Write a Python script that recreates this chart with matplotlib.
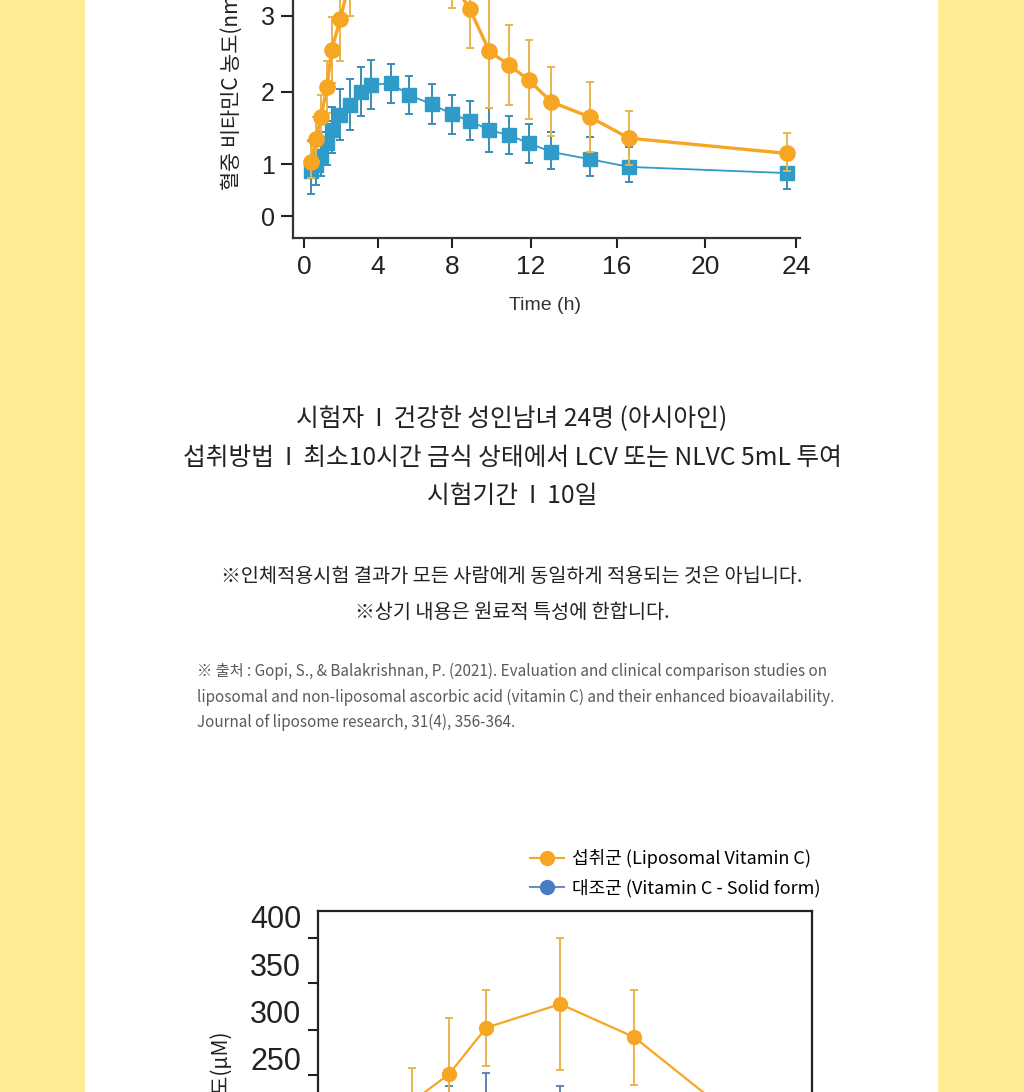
import matplotlib.pyplot as plt
import numpy as np
from matplotlib.patches import Rectangle
from matplotlib.lines import Line2D

plt.rcParams['font.family'] = ['Noto Sans CJK KR', 'DejaVu Sans']

# top chart: blood vitamin C, LCV vs NLVC
time_h = [0.38, 0.65, 0.92, 1.24, 1.49, 1.97, 2.5, 3.1, 3.6, 4.7, 5.7, 6.9,
          8.0, 8.9, 9.9, 10.9, 11.9, 12.95, 14.75, 16.55, 23.6]
lcv = [1.03, 1.35, 1.65, 2.06, 2.55, 2.96, 3.5, 3.9, 4.1, 4.3, 4.1, 3.8,
       3.45, 3.09, 2.53, 2.35, 2.15, 1.86, 1.65, 1.36, 1.15]
lcv_err = [0.3, 0.3, 0.3, 0.35, 0.43, 0.56, 0.5, 0.5, 0.5, 0.5, 0.5, 0.5,
           0.35, 0.52, 0.76, 0.53, 0.53, 0.47, 0.48, 0.37, 0.28]
nlvc = [0.87, 0.99, 1.11, 1.29, 1.47, 1.68, 1.82, 2.0, 2.09, 2.11, 1.95, 1.83,
        1.69, 1.60, 1.47, 1.40, 1.29, 1.17, 1.07, 0.95, 0.83]
nlvc_err = [0.45, 0.39, 0.34, 0.3, 0.32, 0.35, 0.35, 0.33, 0.33, 0.26, 0.26, 0.27,
            0.27, 0.27, 0.3, 0.26, 0.27, 0.27, 0.3, 0.29, 0.3]
x_ticks = [0, 4, 8, 12, 16, 20, 24]
y_ticks = [0, 1, 2, 3]

# bottom chart: liposomal vs solid vitamin C (uM)
time2 = [0, 0.5, 1, 1.5, 2, 3, 4, 6]
lipo = [70, 140, 205, 234, 283, 308, 273, 148]
lipo_err = [20, 30, 35, 59, 40, 70, 50, 40]
solid = [60, 110, 160, 185, 200, 185, 170, 120]
solid_err = [20, 25, 30, 37, 35, 37, 35, 30]
y2_ticks = [250, 300, 350, 400]
y2_marks = [378, 330, 281, 233]

ORANGE = '#F6A623'
ORANGE_E = '#EAB44E'
TEAL = '#2E9BC8'
TEAL_E = '#3A8DB6'
BLUE = '#4A7CC4'
BLUE_E = '#5A84B0'

W, H = 1024, 1092


def piecewise(vals, pos):
    # uneven axis spacing seen in the original graphic
    vals = np.asarray(vals, float)
    pos = np.asarray(pos, float)
    s0 = (pos[1] - pos[0]) / (vals[1] - vals[0])
    s1 = (pos[-1] - pos[-2]) / (vals[-1] - vals[-2])

    def fwd(v):
        v = np.asarray(v, float)
        out = np.interp(v, vals, pos)
        out = np.where(v < vals[0], pos[0] + (v - vals[0]) * s0, out)
        return np.where(v > vals[-1], pos[-1] + (v - vals[-1]) * s1, out)

    def inv(p):
        p = np.asarray(p, float)
        out = np.interp(p, pos, vals)
        out = np.where(p < pos[0], vals[0] + (p - pos[0]) / s0, out)
        return np.where(p > pos[-1], vals[-1] + (p - pos[-1]) / s1, out)

    return fwd, inv


fig = plt.figure(figsize=(W / 100, H / 100), dpi=100)
fig.patch.set_facecolor('#FDEB95')
fig.add_artist(Rectangle((85 / W, 0), (938 - 85) / W, 1, transform=fig.transFigure,
                         facecolor='white', edgecolor='none', zorder=0))

# ---- top chart
ax1 = fig.add_axes([293 / W, 1 - 238 / H, (800 - 293) / W, (238 + 40) / H])
ax1.set_facecolor('none')
ax1.set_xscale('function', functions=piecewise(x_ticks, [0, 74, 148, 227, 313, 401, 492]))
ax1.set_yscale('function', functions=piecewise(y_ticks, [0, 51.7, 124.3, 200.3]))
ax1.errorbar(time_h, nlvc, yerr=nlvc_err, fmt='-s', color=TEAL, ecolor=TEAL_E,
             elinewidth=1.4, capsize=3, capthick=1.4, ms=10.5, lw=1.3, zorder=3)
ax1.errorbar(time_h, lcv, yerr=lcv_err, fmt='-o', color=ORANGE, ecolor=ORANGE_E,
             elinewidth=1.4, capsize=3, capthick=1.4, ms=11, lw=2.4, zorder=4)
ax1.set_xlim(-0.595, 24.18)
ax1.set_ylim(-0.4255, 3.733)
ax1.set_xticks(x_ticks)
ax1.set_yticks(y_ticks)
ax1.spines[['top', 'right']].set_visible(False)
for s in ['left', 'bottom']:
    ax1.spines[s].set_linewidth(1.6)
    ax1.spines[s].set_color('#333333')
ax1.tick_params(axis='x', length=7, width=1.5, pad=5, labelsize=19, colors='#222222')
ax1.tick_params(axis='y', length=9, width=1.5, pad=4, labelsize=18, colors='#222222')
plt.setp(ax1.get_xticklabels() + ax1.get_yticklabels(), family='Liberation Sans')

fig.text(545 / W, 1 - 305 / H, 'Time (h)', ha='center', va='center', fontsize=14,
         family='Liberation Sans', color='#333333')
fig.text(232 / W, 1 - 190 / H, '혈중 비타민C 농도(nmol/mL)', rotation=90,
         ha='center', va='bottom', fontsize=15, color='#222222')

# ---- study info
info = ['시험자  I  건강한 성인남녀 24명 (아시아인)',
        '섭취방법  I  최소10시간 금식 상태에서 LCV 또는 NLVC 5mL 투여',
        '시험기간  I  10일']
for txt, y in zip(info, [419, 458, 496]):
    fig.text(512 / W, 1 - y / H, txt, ha='center', va='center', fontsize=17.8, color='#222222')

notes = ['※인체적용시험 결과가 모든 사람에게 동일하게 적용되는 것은 아닙니다.',
         '※상기 내용은 원료적 특성에 한합니다.']
for txt, y in zip(notes, [577, 612]):
    fig.text(512 / W, 1 - y / H, txt, ha='center', va='center', fontsize=14.2, color='#222222')

source = ['※ 출처 : Gopi, S., & Balakrishnan, P. (2021). Evaluation and clinical comparison studies on',
          'liposomal and non-liposomal ascorbic acid (vitamin C) and their enhanced bioavailability.',
          'Journal of liposome research, 31(4), 356-364.']
for txt, y in zip(source, [671, 697, 722]):
    fig.text(197 / W, 1 - y / H, txt, ha='left', va='center', fontsize=11, color='#5a5a5a')

# ---- bottom chart
ax2 = fig.add_axes([318 / W, 1 - 1295.7 / H, (812 - 318) / W, (1295.7 - 911) / H])
ax2.set_facecolor('none')
ax2.errorbar(time2, solid, yerr=solid_err, fmt='-o', color=BLUE, ecolor=BLUE_E,
             elinewidth=1.4, capsize=3, capthick=1.4, ms=10, lw=1.5, zorder=3)
ax2.errorbar(time2, lipo, yerr=lipo_err, fmt='-o', color=ORANGE, ecolor=ORANGE_E,
             elinewidth=1.4, capsize=3, capthick=1.4, ms=10, lw=1.6, zorder=4)
ax2.set_xlim(-0.27, 6.4)
ax2.set_ylim(0, 406.3)
ax2.set_xticks([])
ax2.set_yticks(y2_ticks)
ax2.set_yticks(y2_marks, minor=True)
for s in ax2.spines.values():
    s.set_linewidth(1.6)
    s.set_color('#222222')
ax2.tick_params(axis='y', which='major', length=0, pad=12, labelsize=22, colors='#222222')
ax2.tick_params(axis='y', which='minor', length=7, width=1.5, colors='#222222')
plt.setp(ax2.get_yticklabels(), family='Liberation Sans')

fig.text(222 / W, 1 - 1032 / H, '혈중 비타민C 농도(μM)', rotation=90,
         ha='center', va='top', fontsize=15, color='#222222')

handles = [Line2D([], [], color=ORANGE, marker='o', ms=10, lw=1.5),
           Line2D([], [], color='#6F8DB8', marker='o', mfc=BLUE, mec=BLUE, ms=10, lw=1.5)]
ax2.legend(handles, ['섭취군 (Liposomal Vitamin C)', '대조군 (Vitamin C - Solid form)'],
           loc='upper left', bbox_to_anchor=(530 / W, 1 - 849 / H), bbox_transform=fig.transFigure,
           frameon=False, fontsize=13, handlelength=1.9, handletextpad=0.45,
           labelspacing=0.6, borderpad=0, borderaxespad=0)

fig.savefig('out.png', dpi=100, facecolor=fig.get_facecolor())
